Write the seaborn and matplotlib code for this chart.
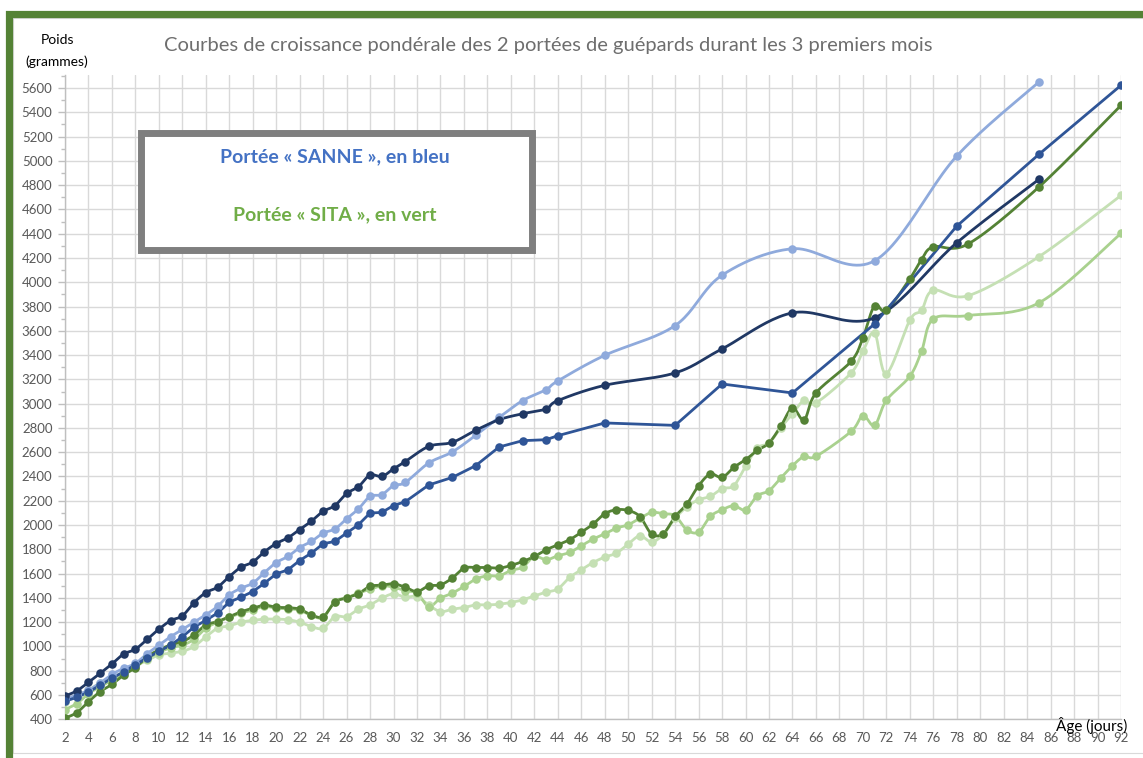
import numpy as np
import matplotlib
matplotlib.use("Agg")
import matplotlib.pyplot as plt
import seaborn as sns
from matplotlib.patches import Rectangle
from matplotlib.ticker import MultipleLocator

# ---------------- data ----------------
days_blue = list(range(2, 32)) + [33, 35, 37, 39, 41, 43, 44, 48, 54, 58, 64, 71, 78, 85]
days_blue_long = days_blue + [92]

sanne_navy = [592, 634, 705, 779, 856, 938, 977, 1059, 1142, 1213, 1252, 1361, 1444, 1488,
              1576, 1653, 1695, 1780, 1848, 1895, 1963, 2032, 2113, 2160, 2260, 2315, 2412, 2400,
              2463, 2523,
              2648, 2681, 2780, 2868, 2917, 2956, 3025, 3151, 3253, 3451, 3748, 3707, 4325, 4847]
sanne_light = [565, 600, 640, 700, 770, 820, 860, 940, 1010, 1080, 1140, 1200, 1260, 1330,
               1425, 1480, 1521, 1609, 1691, 1741, 1815, 1865, 1934, 1967, 2052, 2132, 2236, 2250,
               2326, 2351,
               2511, 2602, 2739, 2887, 3025, 3115, 3187, 3398, 3643, 4058, 4276, 4177, 5039, 5649]
sanne_mid = [550, 580, 625, 680, 740, 790, 850, 905, 960, 1010, 1080, 1160, 1215, 1275,
             1365, 1406, 1452, 1521, 1598, 1631, 1708, 1769, 1846, 1865, 1934, 2002, 2099, 2104,
             2161, 2192,
             2330, 2392, 2489, 2643, 2695, 2703, 2736, 2841, 2821, 3162, 3088, 3657, 4462, 5053, 5622]

days_green = list(range(2, 67)) + [69, 70, 71, 72, 74, 75, 76, 79, 85, 92]

sita_dark = [410, 455, 545, 628, 688, 765, 826, 916, 971, 1013, 1040, 1095, 1177, 1205,
             1246, 1285, 1315, 1340, 1323, 1320, 1307, 1260, 1245, 1365, 1400, 1435, 1495, 1505,
             1516, 1488, 1452, 1499, 1507, 1563, 1645, 1650, 1650, 1645, 1667, 1700, 1741, 1796,
             1837, 1879, 1940, 2008, 2093, 2126, 2120, 2070, 1926, 1930, 2071, 2173, 2324, 2420,
             2392, 2475, 2538, 2615, 2676, 2813, 2964, 2868, 3088,
             3349, 3541, 3808, 3769, 4028, 4187, 4292, 4317, 4784, 5457]
sita_mid = [480, 530, 610, 670, 720, 780, 830, 900, 950, 990, 1010, 1060, 1150, 1200,
            1240, 1275, 1300, 1330, 1315, 1310, 1300, 1255, 1240, 1370, 1400, 1440, 1470, 1500,
            1488, 1460, 1439, 1329, 1398, 1439, 1494, 1554, 1582, 1582, 1626, 1653, 1741, 1714,
            1747, 1774, 1829, 1884, 1928, 1975, 2002, 2057, 2104, 2093, 2076, 1961, 1942, 2071,
            2126, 2159, 2126, 2241, 2283, 2387, 2489, 2566, 2566,
            2771, 2901, 2821, 3027, 3225, 3431, 3698, 3726, 3830, 4402]
sita_light = [540, 590, 640, 700, 740, 790, 840, 885, 930, 945, 960, 1000, 1080, 1150,
              1169, 1200, 1215, 1225, 1225, 1220, 1200, 1164, 1150, 1246, 1246, 1307, 1342, 1398,
              1433, 1406, 1411, 1342, 1287, 1307, 1320, 1342, 1342, 1348, 1362, 1384, 1417, 1447,
              1474, 1568, 1631, 1691, 1736, 1769, 1843, 1911, 1860, 1925, 2055, 2150, 2208, 2236,
              2300, 2324, 2483, 2634, 2676, 2800, 2917, 3027, 3006,
              3253, 3431, 3583, 3247, 3687, 3769, 3934, 3890, 4210, 4715]

x_ticks = list(range(2, 93, 2))
y_ticks = list(range(400, 5601, 200))

title = "Courbes de croissance pondérale des 2 portées de guépards durant les 3 premiers mois"
legend_sanne = "Portée « SANNE », en bleu"
legend_sita = "Portée « SITA », en vert"


def smooth(xs, ys, n=24):
    """Excel-like smoothed line (Bezier through points, Catmull-Rom tangents)."""
    P = np.column_stack([np.asarray(xs, float), np.asarray(ys, float)])
    out = [P[0]]
    m = len(P)
    t = np.linspace(0, 1, n)[1:, None]
    for i in range(m - 1):
        p0 = P[i - 1] if i > 0 else P[i]
        p1, p2 = P[i], P[i + 1]
        p3 = P[i + 2] if i + 2 < m else P[i + 1]
        c1 = p1 + (p2 - p0) / 6.0
        c2 = p2 - (p3 - p1) / 6.0
        seg = ((1 - t) ** 3) * p1 + 3 * ((1 - t) ** 2) * t * c1 + 3 * (1 - t) * t ** 2 * c2 + t ** 3 * p2
        out.extend(seg)
    out = np.array(out)
    return out[:, 0], out[:, 1]


sns.set_theme(style="white")
plt.rcParams['font.family'] = ['Lato', 'DejaVu Sans']

W, H = 1143, 758
fig = plt.figure(figsize=(W / 100, H / 100), dpi=100)

# axes placement (pixel based)
ax_l, ax_r, ax_t, ax_b = 65, 1121, 75, 719.3
ax = fig.add_axes([ax_l / W, 1 - ax_b / H, (ax_r - ax_l) / W, (ax_b - ax_t) / H])
ax.set_xlim(2, 92)
ax.set_ylim(400, 5707)

series = [
    (days_green, sita_light, "#C5E0B4", True),
    (days_green, sita_mid, "#A9D18E", True),
    (days_green, sita_dark, "#548235", True),
    (days_blue, sanne_light, "#8FAADC", True),
    (days_blue, sanne_navy, "#203864", True),
    (days_blue_long, sanne_mid, "#2F5597", False),
]
for xs, ys, col, sm in series:
    if sm:
        sx, sy = smooth(xs, ys)
    else:
        sx, sy = np.asarray(xs, float), np.asarray(ys, float)
    sns.lineplot(x=sx, y=sy, ax=ax, color=col, lw=2.0, sort=False, estimator=None)
    sns.scatterplot(x=xs, y=ys, ax=ax, color=col, s=38, edgecolor=col, linewidth=0, zorder=3)

ax.set_xticks(x_ticks)
ax.set_yticks(y_ticks)
ax.yaxis.set_minor_locator(MultipleLocator(100))
ax.grid(True, which="major", color="#D9D9D9", lw=1.0)
ax.set_axisbelow(True)
ax.tick_params(axis="x", which="both", length=0, labelsize=9.5, labelcolor="#595959", pad=9)
ax.tick_params(axis="y", which="major", length=5, width=1, color="#BFBFBF", left=True,
               labelsize=9.5, labelcolor="#595959", pad=4)
ax.tick_params(axis="y", which="minor", length=3, width=1, color="#BFBFBF", left=True)
for s in ["top", "right"]:
    ax.spines[s].set_visible(False)
for s in ["left", "bottom"]:
    ax.spines[s].set_color("#BFBFBF")
    ax.spines[s].set_linewidth(1)
ax.set_xlabel("")
ax.set_ylabel("")

# texts
fig.text(548 / W, 1 - 45 / H, title, ha="center", va="center", fontsize=14.5, color="#6E6E6E")
fig.text(58 / W, 1 - 40 / H, "Poids", ha="center", va="center", fontsize=10, color="black")
fig.text(57 / W, 1 - 62 / H, "(grammes)", ha="center", va="center", fontsize=10, color="black")
fig.text(1092 / W, 1 - 725 / H, "Âge (jours)", ha="center", va="center", fontsize=11, color="black")

# legend-like box
fig.patches.append(Rectangle((141 / W, 1 - 250 / H), (532 - 141) / W, (250 - 133) / H,
                             transform=fig.transFigure, facecolor="white", edgecolor="#7F7F7F",
                             lw=5, zorder=5))
fig.text(335 / W, 1 - 157 / H, legend_sanne, ha="center", va="center", fontsize=14,
         fontweight="bold", color="#4472C4", zorder=6)
fig.text(335 / W, 1 - 215 / H, legend_sita, ha="center", va="center", fontsize=14,
         fontweight="bold", color="#70AD47", zorder=6)

# frames
fig.patches.append(Rectangle((13 / W, 1 - 753 / H), (1160 - 13) / W, (753 - 18) / H,
                             transform=fig.transFigure, fill=False, edgecolor="#D9D9D9", lw=0.8))
fig.patches.append(Rectangle((8.5 / W, -0.05), 1.1, 1.05 - 13.5 / H,
                             transform=fig.transFigure, fill=False, edgecolor="#548235", lw=5.2))

fig.savefig("out.png", dpi=100)
